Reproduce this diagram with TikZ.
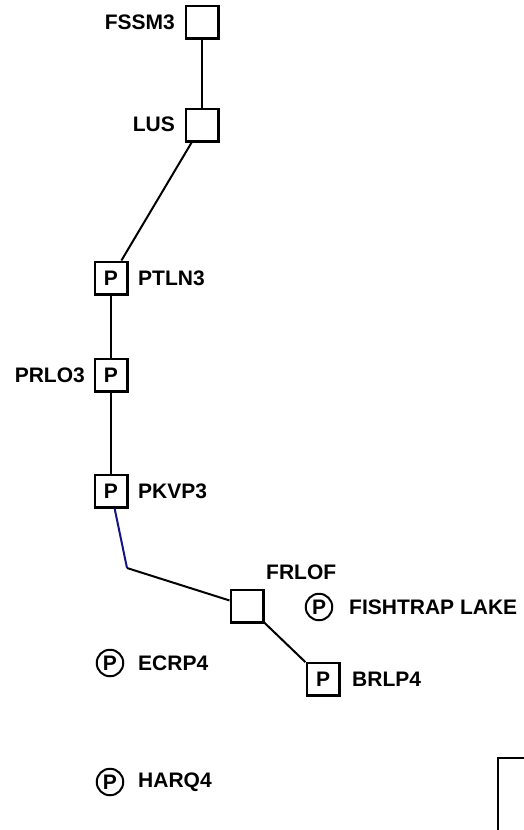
\documentclass[tikz,border=0pt]{standalone}
\usepackage{fontspec}
\setmainfont{Liberation Sans}
\begin{document}
\begin{tikzpicture}[x=1pt,y=-1pt,
  every node/.style={font=\fontsize{21}{25}\selectfont\bfseries},
  bus/.style={draw,line width=2.5pt,minimum size=32.5pt,inner sep=0pt},
  gen/.style={draw,circle,line width=2pt,minimum size=26.5pt,inner sep=0pt},
  lbl/.style={inner sep=0pt},
  wire/.style={line width=2pt},
  bluewire/.style={line width=2pt,draw={rgb,255:red,20;green,20;blue,130}}]
\useasboundingbox (0,0) rectangle (523,830);
% buses
\node[bus] (fssm) at (202,22) {};
\node[bus] (lus) at (202,125) {};
\node[bus] (ptln) at (111,278) {P};
\node[bus] (prlo) at (111,375) {P};
\node[bus] (pkvp) at (111,491) {P};
\node[bus] (frlof) at (247,606) {};
\node[bus] (brlp) at (323,679) {P};
% generators
\node[gen] (fish) at (319,607) {P};
\node[gen] (ecrp) at (110,663) {P};
\node[gen] (harq) at (110,782) {P};
% labels
\node[lbl,anchor=east] (lfssm) at (175,22) {FSSM3};
\node[lbl,anchor=east] (llus) at (175,124) {LUS};
\node[lbl,anchor=west] (lptln) at (138,278) {PTLN3};
\node[lbl,anchor=east] (lprlo) at (85,375) {PRLO3};
\node[lbl,anchor=west] (lpkvp) at (138,491) {PKVP3};
\node[lbl,anchor=west] (lfrlof) at (266,572) {FRLOF};
\node[lbl,anchor=west] (lfish) at (349,607) {FISHTRAP LAKE};
\node[lbl,anchor=west] (lecrp) at (138,663) {ECRP4};
\node[lbl,anchor=west] (lbrlp) at (352,679) {BRLP4};
\node[lbl,anchor=west] (lharq) at (138,782) {HARQ4};
% connections
\coordinate (bend) at (127,568);
\draw[wire] (fssm) -- (lus);
\draw[wire] (lus) -- (ptln);
\draw[wire] (ptln) -- (prlo);
\draw[wire] (prlo) -- (pkvp);
\draw[bluewire] (pkvp) -- (bend);
\draw[wire] (bend) -- (frlof);
\draw[wire] (frlof) -- (brlp);
% frame corner
\coordinate (fc) at (498,758);
\draw[line width=2.5pt] (524,758) -- (fc) -- (498,831);
\end{tikzpicture}
\end{document}
